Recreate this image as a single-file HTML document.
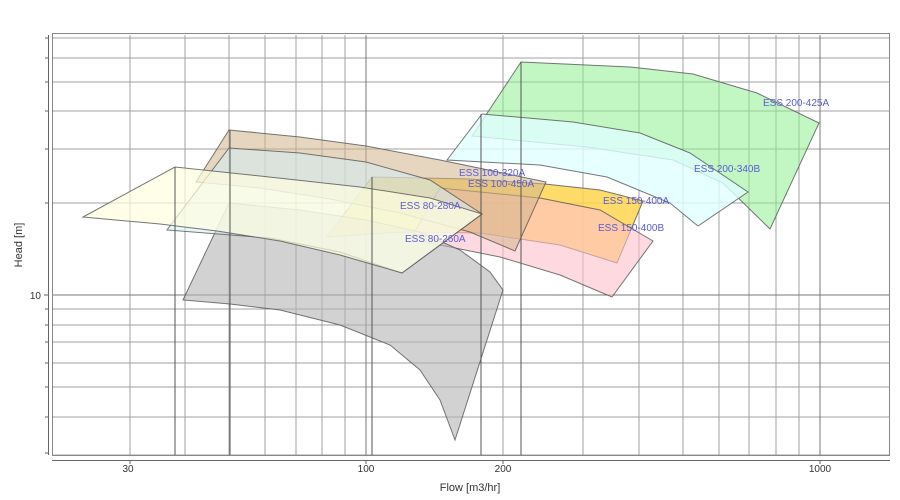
<!DOCTYPE html>
<html><head><meta charset="utf-8"><style>
body{margin:0;background:#fff;}
svg{display:block;font-family:"Liberation Sans",sans-serif;}
</style></head><body>
<svg width="900" height="500" viewBox="0 0 900 500">
<rect x="0" y="0" width="900" height="500" fill="#fff"/>
<g id="grid" stroke="#a0a0a0" stroke-width="1">
<line x1="52" x2="890" y1="455" y2="455"/><line x1="52" x2="890" y1="417" y2="417"/>
<line x1="52" x2="890" y1="387" y2="387"/><line x1="52" x2="890" y1="363" y2="363"/>
<line x1="52" x2="890" y1="342" y2="342"/><line x1="52" x2="890" y1="325" y2="325"/>
<line x1="52" x2="890" y1="309" y2="309"/>
<line x1="52" x2="890" y1="203" y2="203"/><line x1="52" x2="890" y1="149" y2="149"/>
<line x1="52" x2="890" y1="111" y2="111"/><line x1="52" x2="890" y1="82" y2="82"/>
<line x1="52" x2="890" y1="58" y2="58"/><line x1="52" x2="890" y1="38" y2="38"/>
<line y1="35" y2="455" x1="130" x2="130"/>
<line y1="35" y2="455" x1="185" x2="185"/>
<line y1="35" y2="455" x1="229" x2="229"/>
<line y1="35" y2="455" x1="265" x2="265"/>
<line y1="35" y2="455" x1="296" x2="296"/>
<line y1="35" y2="455" x1="322" x2="322"/>
<line y1="35" y2="455" x1="345" x2="345"/>
<line y1="35" y2="455" x1="503" x2="503"/>
<line y1="35" y2="455" x1="583" x2="583"/>
<line y1="35" y2="455" x1="639" x2="639"/>
<line y1="35" y2="455" x1="683" x2="683"/>
<line y1="35" y2="455" x1="719" x2="719"/>
<line y1="35" y2="455" x1="749" x2="749"/>
<line y1="35" y2="455" x1="776" x2="776"/>
<line y1="35" y2="455" x1="799" x2="799"/>
</g>
<g stroke="#777" stroke-width="1">
<line x1="52" x2="890" y1="295" y2="295"/>
<line y1="35" y2="455" x1="366" x2="366"/>
<line y1="35" y2="455" x1="820" x2="820"/>
</g>
<g stroke="#555" stroke-opacity="0.8" stroke-width="1">
<polygon fill="#90ee90" fill-opacity="0.55" points="521,62 630,67 693,74 757,93 819,123 770,229 723,183 673,160 587,147 472,136"/>
<polygon fill="#e0ffff" fill-opacity="0.8" points="482,114 573,122 640,133 690,153 748,192 698,226 670,203 607,177 540,165 447,160"/>
<polygon fill="#ffd54f" fill-opacity="0.85" points="372,177 470,179 545,184 600,190 643,201 617,263 560,245 480,233 400,232 327,237"/>
<polygon fill="#ffc0cb" fill-opacity="0.6" points="440,188 540,198 600,210 653,241 612,297 560,275 500,257 440,245 410,240"/>
<polygon fill="#b4b4b4" fill-opacity="0.6" points="229,203 300,210 366,220 420,232 460,250 490,272 503,290 455,440 440,400 420,370 390,345 340,325 280,310 230,304 183,300"/>
<polygon fill="#d2b48c" fill-opacity="0.55" points="229,130 300,137 366,146 440,160 546,182 515,251 470,232 400,213 330,199 260,188 196,182"/>
<polygon fill="#d4eef2" fill-opacity="0.55" points="229,148 300,153 366,162 430,180 482,214 402,273 340,252 270,238 167,230"/>
<polygon fill="#fffde0" fill-opacity="0.7" points="83,217 175,167 260,176 360,187 430,198 482,214 402,273 340,255 280,241 217,231 160,224"/>
</g>
<g stroke="#555" stroke-width="1">
<line x1="175" x2="175" y1="167" y2="455"/>
<line x1="230" x2="230" y1="130" y2="455"/>
<line x1="372" x2="372" y1="177" y2="455"/>
<line x1="481" x2="481" y1="114" y2="455"/>
<line x1="521" x2="521" y1="62" y2="455"/>
</g>
<g fill="#5b5bd6" font-size="10">
<text x="763" y="106">ESS 200-425A</text>
<text x="694" y="172">ESS 200-340B</text>
<text x="603" y="204">ESS 150-400A</text>
<text x="598" y="231">ESS 150-400B</text>
<text x="459" y="176">ESS 100-320A</text>
<text x="468" y="187">ESS 100-450A</text>
<text x="400" y="209">ESS 80-280A</text>
<text x="405" y="242">ESS 80-260A</text>
</g>
<rect x="52.5" y="33.5" width="837" height="422" fill="none" stroke="#888"/>
<line x1="48.5" x2="48.5" y1="35" y2="455" stroke="#666"/>
<line x1="52" x2="890" y1="460.5" y2="460.5" stroke="#666"/>
<g stroke="#666">
<line x1="45" x2="48" y1="38" y2="38"/><line x1="45" x2="48" y1="58" y2="58"/>
<line x1="45" x2="48" y1="82" y2="82"/><line x1="45" x2="48" y1="111" y2="111"/>
<line x1="45" x2="48" y1="149" y2="149"/><line x1="45" x2="48" y1="203" y2="203"/>
<line x1="44" x2="48" y1="295" y2="295"/><line x1="45" x2="48" y1="309" y2="309"/>
<line x1="45" x2="48" y1="325" y2="325"/><line x1="45" x2="48" y1="342" y2="342"/>
<line x1="45" x2="48" y1="363" y2="363"/><line x1="45" x2="48" y1="387" y2="387"/>
<line x1="45" x2="48" y1="417" y2="417"/><line x1="45" x2="48" y1="453" y2="453"/>
<line y1="460" y2="464" x1="130" x2="130"/><line y1="460" y2="464" x1="366" x2="366"/>
<line y1="460" y2="464" x1="503" x2="503"/><line y1="460" y2="464" x1="820" x2="820"/>
</g>
<g fill="#333" font-size="10">
<text x="41" y="299" text-anchor="end">10</text>
<text x="128" y="472" text-anchor="middle">30</text>
<text x="366" y="472" text-anchor="middle">100</text>
<text x="503" y="472" text-anchor="middle">200</text>
<text x="820" y="472" text-anchor="middle">1000</text>
</g>
<text x="470" y="491" text-anchor="middle" font-size="11" fill="#333">Flow [m3/hr]</text>
<text transform="translate(22,245) rotate(-90)" text-anchor="middle" font-size="11" fill="#333">Head [m]</text>
</svg>
</body></html>
